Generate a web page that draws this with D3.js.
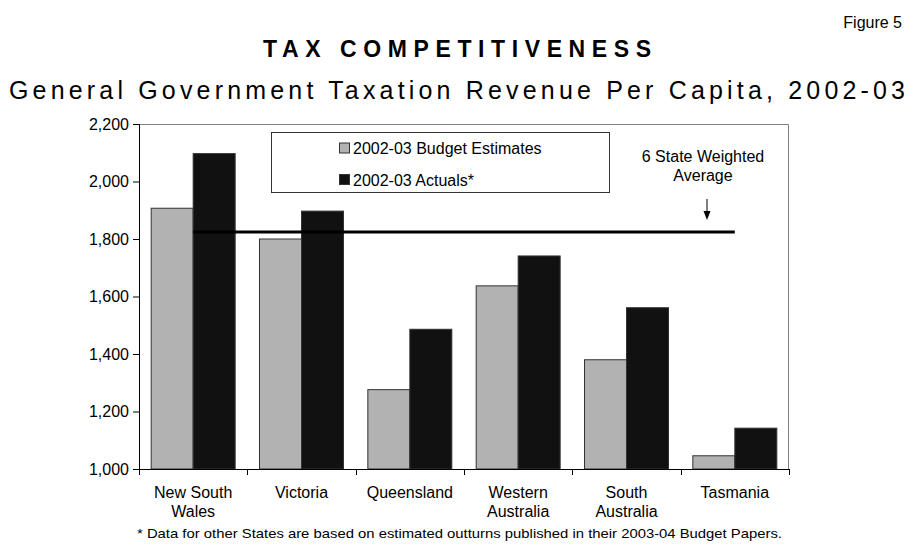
<!DOCTYPE html>
<html>
<head>
<meta charset="utf-8">
<script src="https://cdn.jsdelivr.net/npm/d3@7"></script>
<style>
  html, body { margin: 0; padding: 0; background: #fff; }
  svg { display: block; font-family: "Liberation Sans", Arial, sans-serif; }
</style>
</head>
<body>
<svg id="chart" width="918" height="544"></svg>
<script>
// States compared
const categories = ["New South Wales", "Victoria", "Queensland", "Western Australia", "South Australia", "Tasmania"];
const categoryLines = [["New South", "Wales"], ["Victoria"], ["Queensland"], ["Western", "Australia"], ["South", "Australia"], ["Tasmania"]];

// Taxation revenue per capita ($)
const seriesNames = ["2002-03 Budget Estimates", "2002-03 Actuals*"];
const budgetEstimates = [1907, 1800, 1276, 1637, 1380, 1046];
const actuals = [2097, 1897, 1486, 1741, 1561, 1142];
const weightedAverage = 1824;

const yTicks = [1000, 1200, 1400, 1600, 1800, 2000, 2200];
const yDomain = [1000, 2200];

const seriesColors = ["#b2b2b2", "#111111"];

const svg = d3.select("#chart");
const plot = { left: 139, top: 124, right: 789, bottom: 469 };
const pw = plot.right - plot.left, ph = plot.bottom - plot.top;
const font = '"Liberation Sans", Arial, sans-serif';

// Headings
svg.append("text")
  .attr("x", 902).attr("y", 28)
  .attr("text-anchor", "end")
  .style("font-size", "16px").attr("fill", "#000")
  .text("Figure 5");

svg.append("text")
  .attr("x", 457).attr("y", 57)
  .attr("text-anchor", "middle")
  .style("font-size", "23px").style("font-weight", "bold")
  .attr("textLength", 388).attr("lengthAdjust", "spacing")
  .text("TAX COMPETITIVENESS");

svg.append("text")
  .attr("x", 457).attr("y", 99)
  .attr("text-anchor", "middle")
  .style("font-size", "25px")
  .attr("textLength", 896).attr("lengthAdjust", "spacing")
  .text("General Government Taxation Revenue Per Capita, 2002-03");

const g = svg.append("g").attr("transform", `translate(${plot.left},${plot.top})`);

const x0 = d3.scaleBand().domain(categories).range([0, pw]).padding(0);
const x1 = d3.scaleBand().domain(seriesNames).range([0, x0.bandwidth()]).paddingInner(0).paddingOuter(0.29);
const y = d3.scaleLinear().domain(yDomain).range([ph, 0]);

// Plot area frame (top and right)
g.append("path")
  .attr("d", `M0,0.5H${pw - 0.5}V${ph}`)
  .attr("fill", "none").attr("stroke", "#808080").attr("stroke-width", 1);

// Bars
const rows = categories.map((c, i) => ({ cat: c, values: [budgetEstimates[i], actuals[i]] }));
const groups = g.selectAll("g.cat").data(rows).join("g")
  .attr("class", "cat")
  .attr("transform", d => `translate(${x0(d.cat)},0)`);

groups.selectAll("rect").data(d => d.values.map((v, j) => ({ key: seriesNames[j], v, j }))).join("rect")
  .attr("x", d => x1(d.key))
  .attr("y", d => y(d.v))
  .attr("width", x1.bandwidth())
  .attr("height", d => y(yDomain[0]) - y(d.v))
  .attr("fill", d => seriesColors[d.j])
  .attr("stroke", "#333").attr("stroke-width", 1);

// Weighted average line from first to last state centre
const avgX0 = x0(categories[0]) + x0.bandwidth() / 2;
const avgX1 = x0(categories[categories.length - 1]) + x0.bandwidth() / 2;
g.append("line")
  .attr("x1", avgX0).attr("x2", avgX1)
  .attr("y1", y(weightedAverage)).attr("y2", y(weightedAverage))
  .attr("stroke", "#000").attr("stroke-width", 3);

// Y axis
const yAxis = g.append("g")
  .call(d3.axisLeft(y).tickValues(yTicks).tickFormat(d3.format(",")).tickSize(6).tickPadding(4));
yAxis.select(".domain").attr("stroke", "#000");
yAxis.selectAll("text").style("font-size", "16px").style("font-family", font).attr("fill", "#000");
yAxis.selectAll("line").attr("stroke", "#000");

// X axis line and category boundary ticks
g.append("line").attr("x1", 0).attr("x2", pw).attr("y1", ph + 0.5).attr("y2", ph + 0.5)
  .attr("stroke", "#000");
const bounds = categories.map(c => x0(c)).concat([pw]);
g.selectAll("line.xtick").data(bounds).join("line")
  .attr("class", "xtick")
  .attr("x1", d => Math.round(d) + 0.5).attr("x2", d => Math.round(d) + 0.5)
  .attr("y1", ph).attr("y2", ph + 6)
  .attr("stroke", "#000");

// Category labels
const labels = g.selectAll("text.cat").data(categories).join("text")
  .attr("class", "cat")
  .attr("text-anchor", "middle")
  .style("font-size", "16px")
  .attr("transform", c => `translate(${x0(c) + x0.bandwidth() / 2},${ph + 29})`);
labels.each(function (c, i) {
  d3.select(this).selectAll("tspan").data(categoryLines[i]).join("tspan")
    .attr("x", 0).attr("dy", (d, k) => k === 0 ? 0 : 19)
    .text(d => d);
});

// Legend
const legend = svg.append("g").attr("transform", "translate(271,132)");
legend.append("rect").attr("x", 0.5).attr("y", 0.5).attr("width", 338).attr("height", 60)
  .attr("fill", "#fff").attr("stroke", "#333");
seriesNames.forEach((name, j) => {
  const cy = 16 + j * 31.5;
  legend.append("rect").attr("x", 68.5).attr("y", cy - 5).attr("width", 10).attr("height", 10)
    .attr("fill", seriesColors[j]).attr("stroke", "#333");
  legend.append("text").attr("x", 82).attr("y", cy + 6)
    .style("font-size", "16px").text(name);
});

// Annotation for the weighted average
const ann = svg.append("text").attr("text-anchor", "middle").style("font-size", "16px");
ann.append("tspan").attr("x", 703).attr("y", 162).text("6 State Weighted");
ann.append("tspan").attr("x", 703).attr("y", 181).text("Average");

const arrowX = 707;
svg.append("line").attr("x1", arrowX).attr("x2", arrowX).attr("y1", 199).attr("y2", 213)
  .attr("stroke", "#000").attr("stroke-width", 1);
svg.append("path").attr("d", `M${arrowX - 3.5},211L${arrowX + 3.5},211L${arrowX},220Z`).attr("fill", "#000");

// Footnote
svg.append("text").attr("x", 137).attr("y", 538)
  .style("font-size", "13px")
  .attr("textLength", 645).attr("lengthAdjust", "spacingAndGlyphs")
  .text("* Data for other States are based on estimated outturns published in their 2003-04 Budget Papers.");
</script>
</body>
</html>
